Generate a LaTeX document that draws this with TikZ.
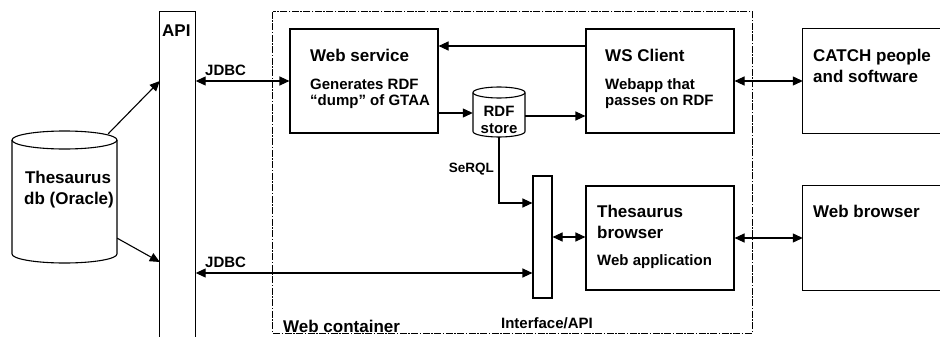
\documentclass[tikz,border=0pt]{standalone}
\usepackage{fontspec}
\setmainfont{Liberation Sans}
\usetikzlibrary{arrows.meta,calc}
\begin{document}
\begin{tikzpicture}[x=1pt,y=-1pt,
  ln/.style={line width=1.1pt},
  arr/.style={ln,-{Triangle[length=10pt,width=9pt]}},
  dbl/.style={ln,{Triangle[length=10pt,width=9pt]}-{Triangle[length=10pt,width=9pt]}},
  box/.style={draw,ln,inner sep=0,minimum width=148,minimum height=104},
  frame/.style={inner sep=0},
  ttl/.style={font=\fontsize{17}{20}\selectfont\bfseries,anchor=base west,inner sep=0},
  sub/.style={font=\fontsize{15}{18}\selectfont\bfseries,anchor=base west,inner sep=0},
  small/.style={font=\fontsize{13.5}{16}\selectfont\bfseries,inner sep=0},
  wcline/.style={line width=1pt,dash pattern=on 7pt off 1.5pt on 1.5pt off 1.5pt},
]
\useasboundingbox[fill=white] (0,0) rectangle (940,337);

% Web container frame
\node[frame,minimum width=479,minimum height=321] (wc) at (512.5,172.5) {};
\draw[wcline] (wc.north west) rectangle (wc.south east);
\node[ttl] (wclabel) at (283,332) {Web container};

% Thesaurus db cylinder
\node[frame,minimum width=105,minimum height=133] (db) at (64.5,196.5) {};
\draw[ln,fill=white] (12,140) -- (12,254) arc[start angle=180,end angle=360,x radius=52.5pt,y radius=9pt] -- (117,140);
\draw[ln] (64.5,140) ellipse[x radius=52.5pt,y radius=9pt];
\node[ttl,anchor=base] (dbt1) at (68,183) {Thesaurus};
\node[ttl,anchor=base] (dbt2) at (69,204) {db (Oracle)};

% API bar
\node[frame,minimum width=35.5,minimum height=325] (api) at (177.75,174.5) {};
\draw[ln] (api.south west) -- (api.north west) -- (api.north east) -- (api.south east);
\node[ttl] (apit) at (162,37) {API};

% Web service
\node[box] (ws) at (364,81) {};
\node[ttl] (wst1) at (310,62) {Web service};
\node[sub] (wst2) at (310,89) {Generates RDF};
\node[sub] (wst3) at (310,106) {“dump” of GTAA};

% WS Client
\node[box] (wsc) at (660,81) {};
\node[ttl] (wsct1) at (605,62) {WS Client};
\node[sub] (wsct2) at (605,89) {Webapp that};
\node[sub] (wsct3) at (605,106) {passes on RDF};

% CATCH
\node[frame,minimum width=137,minimum height=104] (catch) at (871.5,81) {};
\draw[ln] (catch.north east) -- (catch.north west) -- (catch.south west) -- (catch.south east);
\node[ttl] (ct1) at (813,62) {CATCH people};
\node[ttl] (ct2) at (813,82) {and software};

% Thesaurus browser
\node[box] (tb) at (660,238) {};
\node[ttl] (tbt1) at (597,217) {Thesaurus};
\node[ttl] (tbt2) at (597,238) {browser};
\node[sub] (tbt3) at (597,265) {Web application};

% Web browser
\node[frame,minimum width=137,minimum height=104] (wb) at (871.5,238) {};
\draw[ln] (wb.north east) -- (wb.north west) -- (wb.south west) -- (wb.south east);
\node[ttl] (wbt) at (813,217) {Web browser};

% Interface bar
\node[draw,ln,inner sep=0,minimum width=19,minimum height=122] (iface) at (542.5,237) {};
\node[sub,anchor=base] (ifacet) at (547,328) {Interface/API};

% RDF store cylinder
\node[frame,minimum width=52,minimum height=50] (rdf) at (499,112) {};
\draw[ln,fill=white] (473,92.5) -- (473,131.5) arc[start angle=180,end angle=360,x radius=26pt,y radius=5.5pt] -- (525,92.5);
\draw[ln] (499,92.5) ellipse[x radius=26pt,y radius=5.5pt];
\node[sub,anchor=base] (rdft1) at (499,117) {RDF};
\node[sub,anchor=base] (rdft2) at (499,133) {store};

% labels
\node[sub] (jdbc1) at (205,76) {JDBC};
\node[sub] (jdbc2) at (205,267) {JDBC};
\node[small,anchor=base east] (serql) at (494,172) {SeRQL};

% coordinates
\coordinate (j2) at ([yshift=-36pt]iface.west);
\path (api.west |- j2) ++(0,-11) coordinate (dblow);
\coordinate (fb) at ([yshift=35pt]wsc.west);
\coordinate (r1) at ([yshift=-1pt]rdf.west);
\coordinate (r2) at ([yshift=-4pt]rdf.east);
\coordinate (sq) at ([yshift=34pt]iface.west);

% connectors
\draw[arr] ([xshift=-9pt,yshift=-4pt]db.north east) -- (api.west |- ws.west);
\draw[arr] ([yshift=25pt]db.south east) -- (dblow);
\draw[dbl] (api.east |- ws.west) -- (ws.west);
\draw[dbl] (api.east |- j2) -- (j2);
\draw[arr] (fb) -- (ws.east |- fb);
\draw[arr] (ws.east |- r1) -- (r1);
\draw[arr] (r2) -- (wsc.west |- r2);
\draw[arr] (rdf.south) |- (sq);
\draw[dbl] (iface.east) -- (tb.west |- iface.east);
\draw[dbl] (wsc.east) -- (catch.west);
\draw[dbl] (tb.east) -- (wb.west);
\end{tikzpicture}
\end{document}
